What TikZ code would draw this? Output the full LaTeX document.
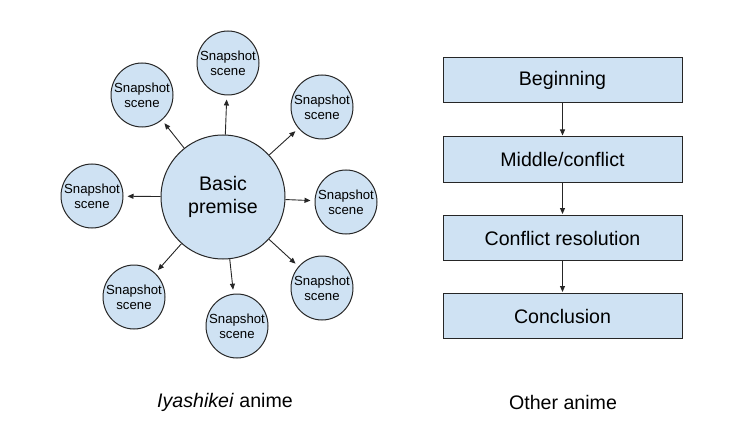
\documentclass[tikz,border=0pt]{standalone}
\usepackage{fontspec}
\setmainfont{Liberation Sans}
\usepackage{xcolor}
\usetikzlibrary{shapes,arrows.meta,positioning}
\definecolor{paleblue}{HTML}{CFE2F3}

\begin{document}
\begin{tikzpicture}[
    x=1pt, y=-1pt,
    premise/.style={draw=black!85, line width=1pt, fill=paleblue, circle, minimum size=124pt, inner sep=0pt, align=center, font=\fontsize{19.6}{23}\selectfont},
    scene/.style={draw=black!85, line width=1pt, fill=paleblue, ellipse, minimum width=62pt, minimum height=64pt, inner xsep=-8pt, inner ysep=0pt, align=center, font=\fontsize{13.2}{15}\selectfont},
    stage/.style={draw=black!85, line width=1pt, fill=paleblue, minimum width=239pt, minimum height=45pt, font=\fontsize{19.6}{23}\selectfont},
    caption/.style={font=\fontsize{19.6}{23}\selectfont},
    link/.style={draw=black!85, line width=0.9pt, -{Triangle[length=6pt,width=5pt]}, shorten >=4pt},
    flow/.style={draw=black!85, line width=0.9pt, -{Triangle[length=6pt,width=5pt]}, shorten >=1pt},
]
\useasboundingbox (0,0) rectangle (735,422);

% Iyashikei side
\node[premise] (basic) at (223,197) {Basic\\premise};
\node[scene] (sc1) at (142,95) {Snapshot\\scene};
\node[scene] (sc2) at (228,63) {Snapshot\\scene};
\node[scene] (sc3) at (322,107) {Snapshot\\scene};
\node[scene] (sc4) at (346,202) {Snapshot\\scene};
\node[scene] (sc5) at (322,288) {Snapshot\\scene};
\node[scene] (sc6) at (237,326) {Snapshot\\scene};
\node[scene] (sc7) at (134,297) {Snapshot\\scene};
\node[scene] (sc8) at (92,196) {Snapshot\\scene};

\draw[link] (basic) -- (sc1);
\draw[link] (basic) -- (sc2);
\draw[link] (basic) -- (sc3);
\draw[link] (basic) -- (sc4);
\draw[link] (basic) -- (sc5);
\draw[link] (basic) -- (sc6);
\draw[link] (basic) -- (sc7);
\draw[link] (basic) -- (sc8);

% Other side
\node[stage] (beginning) at (562.5,80.5) {Beginning};
\node[stage] (middle) at (562.5,159.5) {Middle/conflict};
\node[stage] (resolution) at (562.5,238) {Conflict resolution};
\node[stage] (conclusion) at (562.5,316) {Conclusion};

\draw[flow] (beginning) -- (middle);
\draw[flow] (middle) -- (resolution);
\draw[flow] (resolution) -- (conclusion);

% Captions
\node[caption] (leftcap) at (225,402) {\textit{Iyashikei} anime};
\node[caption] (rightcap) at (563,402) {Other anime};

\end{tikzpicture}
\end{document}
